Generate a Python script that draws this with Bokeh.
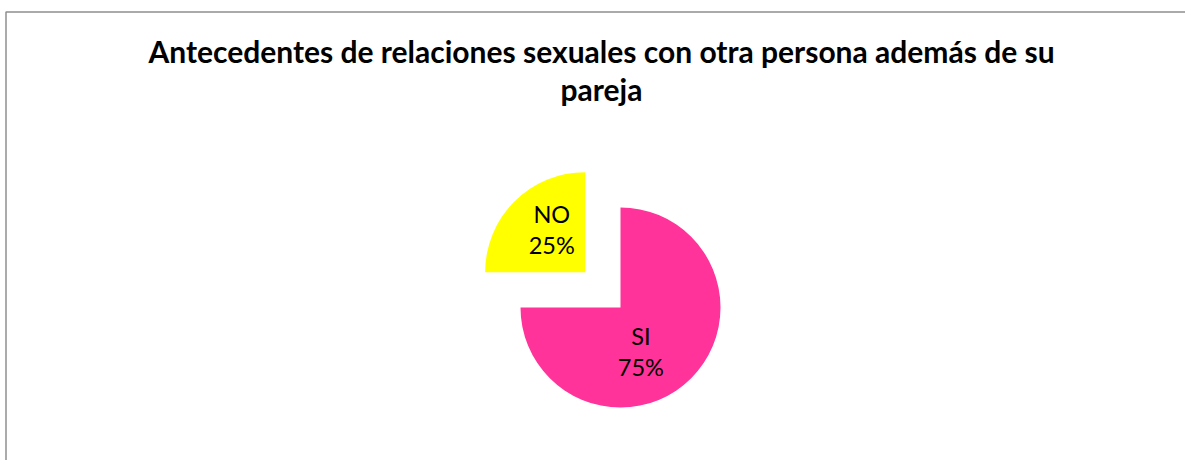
import math
from bokeh.plotting import figure
from bokeh.models import Range1d, ColumnDataSource
from bokeh.core.properties import value
from bokeh.embed import file_html
from bokeh.resources import INLINE

# ---- data ----
categories = ["SI", "NO"]
values = [75, 25]
colors = ["#FF3399", "#FFFF00"]
title_lines = ["Antecedentes de relaciones sexuales con otra persona además de su", "pareja"]

# ---- layout / style ----
W, H = 1185, 460
CX, CY = 620, 153          # pie centre (px units)
R = 100                    # pie radius (px)
explode = [0, 50]          # per slice explode distance (px)
label_r = [0.50, 0.53]     # label distance as fraction of radius
label_shift = [-21, -6]    # label angle tweak (degrees)
FONT = "Lato"

p = figure(width=W, height=H, x_range=Range1d(0, W), y_range=Range1d(0, H),
           x_axis_type=None, y_axis_type=None, toolbar_location=None,
           output_backend="svg", min_border=0, outline_line_color=None,
           background_fill_color="white", border_fill_color="white")
p.grid.visible = False

# chart frame (top and left edges visible)
p.line(x=[5.5, 5.5, W + 10], y=[-10, H - 11.5, H - 11.5], line_color="#8f8f8f", line_width=1.5)

total = float(sum(values))
start = 90.0
xs, ys, sa, ea, lx, ly, names, pcts = [], [], [], [], [], [], [], []
for i, v in enumerate(values):
    sweep = 360.0 * v / total
    end = start - sweep
    mid = (start + end) / 2.0
    ox = CX + explode[i] * math.cos(math.radians(mid))
    oy = CY + explode[i] * math.sin(math.radians(mid))
    xs.append(ox); ys.append(oy)
    sa.append(math.radians(start)); ea.append(math.radians(end))
    la = math.radians(mid + label_shift[i])
    lx.append(ox + label_r[i] * R * math.cos(la))
    ly.append(oy + label_r[i] * R * math.sin(la))
    names.append(categories[i])
    pcts.append(f"{round(100 * v / total)}%")
    start = end

src = ColumnDataSource(dict(x=xs, y=ys, sa=sa, ea=ea, color=colors))
p.wedge(x="x", y="y", radius=R, start_angle="sa", end_angle="ea",
        direction="clock", fill_color="color", line_color=None, source=src)

lsrc = ColumnDataSource(dict(x=lx, yn=[y + 17 for y in ly], yp=[y - 14 for y in ly],
                             name=names, pct=pcts))
for col in ("yn", "yp"):
    p.text(x="x", y=col, text="name" if col == "yn" else "pct", source=lsrc,
           text_font=value(FONT), text_font_size="23.5px", text_color="black",
           text_align="center", text_baseline="alphabetic")

# title
p.text(x=[601, 601], y=[410, 372], text=title_lines,
       text_font=value(FONT), text_font_style="bold", text_font_size="30px",
       text_color="black", text_align="center", text_baseline="alphabetic")

open("out.html", "w").write(file_html(p, INLINE))
